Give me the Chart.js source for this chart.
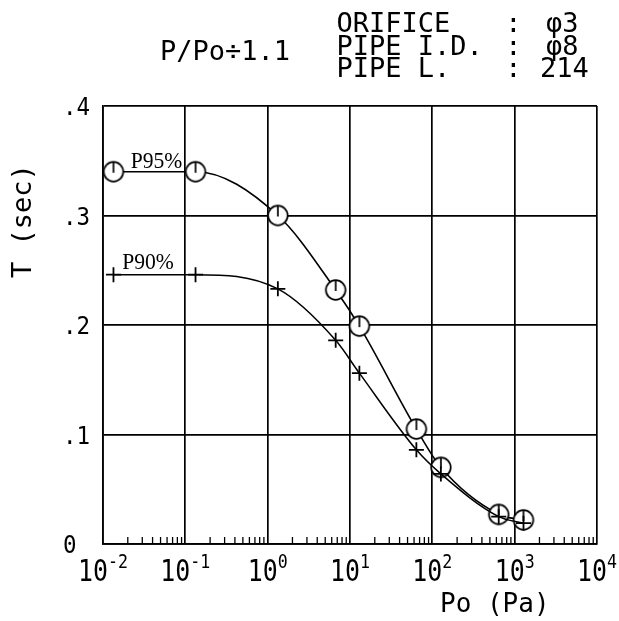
<!DOCTYPE html>
<html><head><meta charset="utf-8">
<script src="https://cdn.jsdelivr.net/npm/chart.js@4"></script>
<style>html,body{margin:0;padding:0;background:#fff}canvas{display:block}</style>
</head><body>
<canvas id="c" width="619" height="621"></canvas>
<script>
// ---- data ----
const pressure = [0.0134, 0.133, 1.33, 6.7, 13, 64, 127, 640, 1280];
const p95 = [0.34, 0.34, 0.30, 0.232, 0.199, 0.105, 0.070, 0.027, 0.022];
const p90 = [0.246, 0.246, 0.233, 0.186, 0.156, 0.086, 0.064, 0.025, 0.019];
const seriesNames = ['P95%', 'P90%'];
const xTickValues = [0.01, 0.1, 1, 10, 100, 1000, 10000];
const xTickBase = ['10', '10', '10', '10', '10', '10', '10'];
const xTickExp = ['-2', '-1', '0', '1', '2', '3', '4'];
const yTickValues = [0, 0.1, 0.2, 0.3, 0.4];
const yTickLabels = ['0', '.1', '.2', '.3', '.4'];
const xTitle = 'Po (Pa)';
const yTitle = 'T (sec)';
const conditionText = 'P/Po\u00F71.1';
const specNames = ['ORIFICE', 'PIPE I.D.', 'PIPE L.'];
const specValues = ['\u03C63', '\u03C68', '214'];

// ---- styling helpers ----
const MONO = '"DejaVu Sans Mono", monospace';
const SERIF = '"Liberation Serif", serif';
function txt(ctx, s, x, y, size, family, align, sx) {
  ctx.save();
  ctx.font = size + 'px ' + family;
  ctx.fillStyle = '#000';
  ctx.textAlign = align || 'left';
  ctx.textBaseline = 'alphabetic';
  ctx.translate(x, y);
  ctx.scale(sx || 1, 1);
  ctx.fillText(s, 0, 0);
  ctx.restore();
}
function circleTick() {
  const r = 9.8, s = 24;
  const c = document.createElement('canvas');
  c.width = s; c.height = s;
  const g = c.getContext('2d');
  g.fillStyle = '#fff'; g.strokeStyle = '#000'; g.lineWidth = 1.7;
  g.beginPath(); g.arc(s / 2, s / 2, r, 0, Math.PI * 2); g.fill(); g.stroke();
  g.beginPath(); g.moveTo(s / 2, s / 2 - r); g.lineTo(s / 2, s / 2 + 1); g.stroke();
  return c;
}

const decor = {
  id: 'decor',
  beforeDatasetsDraw(chart) {
    const ctx = chart.ctx, xs = chart.scales.x, bottom = chart.chartArea.bottom;
    ctx.save();
    ctx.strokeStyle = '#000'; ctx.lineWidth = 1.3;
    for (let i = 0; i < xTickValues.length - 1; i++) {
      for (let m = 2; m <= 9; m++) {
        const px = xs.getPixelForValue(m * xTickValues[i]);
        ctx.beginPath(); ctx.moveTo(px, bottom); ctx.lineTo(px, bottom - 7); ctx.stroke();
      }
    }
    ctx.restore();
  },
  afterDraw(chart) {
    const ctx = chart.ctx, xs = chart.scales.x, ys = chart.scales.y, a = chart.chartArea;
    // x tick labels with superscripts
    const sx = 0.83;
    xTickValues.forEach((v, i) => {
      const px = xs.getPixelForValue(v);
      ctx.font = '30px ' + MONO; const wb = ctx.measureText(xTickBase[i]).width * sx;
      ctx.font = '20px ' + MONO; const we = ctx.measureText(xTickExp[i]).width * sx;
      const x0 = px - (wb + we) / 2;
      txt(ctx, xTickBase[i], x0, a.bottom + 37, 30, MONO, 'left', sx);
      txt(ctx, xTickExp[i], x0 + wb, a.bottom + 24, 20, MONO, 'left', sx);
    });
    // y tick labels
    yTickValues.forEach((v, i) => {
      const py = ys.getPixelForValue(v);
      txt(ctx, yTickLabels[i], ys.left, py + 9, 25, MONO, 'left', 0.9);
    });
    // axis titles
    txt(ctx, xTitle, 440, 612, 26, MONO, 'left', 1);
    ctx.save();
    ctx.translate(31, 278); ctx.rotate(-Math.PI / 2);
    txt(ctx, yTitle, 0, 0, 27, MONO, 'left', 1);
    ctx.restore();
    // header
    const baselines = [32, 54.5, 77];
    const valueX = [546, 546, 540];
    specNames.forEach((s, i) => {
      txt(ctx, s, 336.5, baselines[i], 27, MONO, 'left', 1);
      txt(ctx, ':', 513.5, baselines[i], 27, MONO, 'center', 1);
      txt(ctx, specValues[i], valueX[i], baselines[i], 27, MONO, 'left', 1);
    });
    txt(ctx, conditionText, 160, 60, 27, MONO, 'left', 1);
    // series labels on the first segment
    const series = [p95, p90], dx = [2, -6.5], dy = [4, 6];
    series.forEach((d, i) => {
      const mx = (xs.getPixelForValue(pressure[0]) + xs.getPixelForValue(pressure[1])) / 2;
      const ly = ys.getPixelForValue(d[0]);
      txt(ctx, seriesNames[i], mx + dx[i], ly - dy[i], 24, SERIF, 'center', 0.9);
    });
  }
};

const gridOpts = { color: '#000', lineWidth: 1.7, drawTicks: false, tickLength: 0 };
const borderOpts = { display: true, color: '#000', width: 1.7 };

new Chart(document.getElementById('c'), {
  type: 'line',
  data: {
    datasets: [
      {
        label: seriesNames[0],
        data: pressure.map((x, i) => ({ x: x, y: p95[i] })),
        borderColor: '#000', borderWidth: 1.6, fill: false,
        cubicInterpolationMode: 'monotone',
        pointStyle: circleTick(), pointRadius: 10,
        order: 1
      },
      {
        label: seriesNames[1],
        data: pressure.map((x, i) => ({ x: x, y: p90[i] })),
        borderColor: '#000', borderWidth: 1.5, fill: false,
        cubicInterpolationMode: 'monotone',
        pointStyle: 'cross', pointRadius: 7.5, pointBorderWidth: 1.8,
        pointBorderColor: '#000', pointBackgroundColor: '#000',
        order: 0
      }
    ]
  },
  options: {
    responsive: false,
    animation: false,
    devicePixelRatio: 1,
    events: [],
    layout: { padding: { left: 63, top: 106, right: 22, bottom: 0 } },
    plugins: { legend: { display: false }, tooltip: { enabled: false }, title: { display: false } },
    scales: {
      x: {
        type: 'logarithmic', min: 0.01, max: 10000,
        afterBuildTicks: s => { s.ticks = xTickValues.map(v => ({ value: v })); },
        afterFit: s => { s.height = 77; },
        ticks: { display: false },
        grid: gridOpts, border: borderOpts
      },
      y: {
        type: 'linear', min: 0, max: 0.4,
        afterBuildTicks: s => { s.ticks = yTickValues.map(v => ({ value: v })); },
        afterFit: s => { s.width = 40; },
        ticks: { display: false },
        grid: gridOpts, border: borderOpts
      }
    }
  },
  plugins: [decor]
});
</script>
</body></html>
